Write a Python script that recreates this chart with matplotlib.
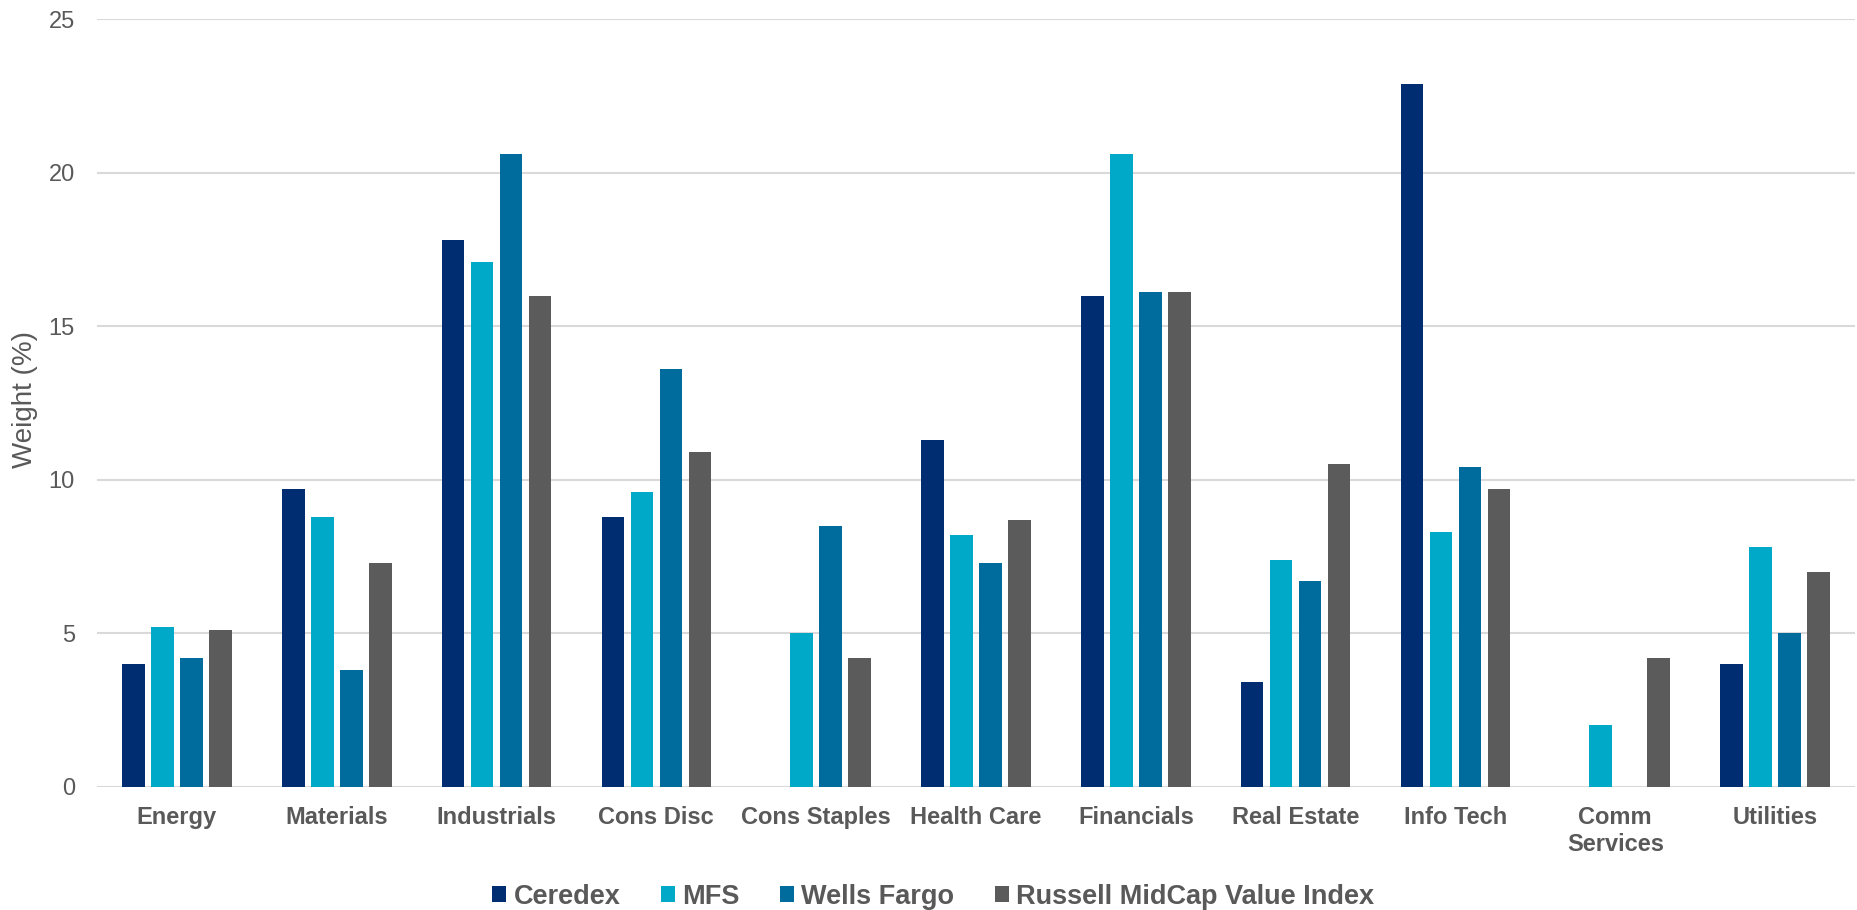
import numpy as np
import matplotlib
matplotlib.use("Agg")
import matplotlib.pyplot as plt
from matplotlib.patches import Patch

sectors = ["Energy", "Materials", "Industrials", "Cons Disc", "Cons Staples",
           "Health Care", "Financials", "Real Estate", "Info Tech",
           "Comm\nServices", "Utilities"]
ceredex = [4.0, 9.7, 17.8, 8.8, 0.0, 11.3, 16.0, 3.4, 22.9, 0.0, 4.0]
mfs = [5.2, 8.8, 17.1, 9.6, 5.0, 8.2, 20.6, 7.4, 8.3, 2.0, 7.8]
wells_fargo = [4.2, 3.8, 20.6, 13.6, 8.5, 7.3, 16.1, 6.7, 10.4, 0.0, 5.0]
russell = [5.1, 7.3, 16.0, 10.9, 4.2, 8.7, 16.1, 10.5, 9.7, 4.2, 7.0]

series_names = ["Ceredex", "MFS", "Wells Fargo", "Russell MidCap Value Index"]
colors = ["#002D72", "#00A9C8", "#006C9E", "#5B5B5B"]
text_col = "#595959"

plt.rcParams["font.family"] = ["Liberation Sans", "DejaVu Sans"]

fig = plt.figure(figsize=(18.57, 9.10), dpi=100)
ax = fig.add_axes([97 / 1857, 1 - 786.7 / 910, (1855 - 97) / 1857, (786.7 - 19.3) / 910])

x = np.arange(len(sectors))
pitch = 0.1815
width = 0.142
all_series = [ceredex, mfs, wells_fargo, russell]
for i, vals in enumerate(all_series):
    ax.bar(x + (i - 1.5) * pitch, vals, width=width, color=colors[i], zorder=3)

ax.set_xlim(-0.5, len(sectors) - 0.5)
ax.set_ylim(0, 25)
ax.set_yticks([0, 5, 10, 15, 20, 25])
ax.set_xticks(x)
ax.set_xticklabels(sectors, fontsize=17, fontweight="bold", color=text_col)
ax.tick_params(axis="x", length=0, pad=14)
ax.tick_params(axis="y", length=0, pad=16, labelsize=17, labelcolor=text_col)
ax.grid(axis="y", color="#D9D9D9", linewidth=1.5, zorder=0)
ax.set_axisbelow(True)
for s in ax.spines.values():
    s.set_visible(False)

fig.text(25 / 1857, 1 - 400 / 910, "Weight (%)", rotation=90, fontsize=20,
         color=text_col, ha="center", va="center")

handles = [Patch(facecolor=c, edgecolor="none") for c in colors]
leg = fig.legend(handles, series_names, loc="center", bbox_to_anchor=(0.5025, 0.0143),
                 ncol=4, frameon=False, handlelength=0.52, handleheight=0.52,
                 handletextpad=0.26, columnspacing=1.5,
                 prop={"size": 19.5, "weight": "bold"})
for t in leg.get_texts():
    t.set_color(text_col)

fig.savefig("out.png", dpi=100)
